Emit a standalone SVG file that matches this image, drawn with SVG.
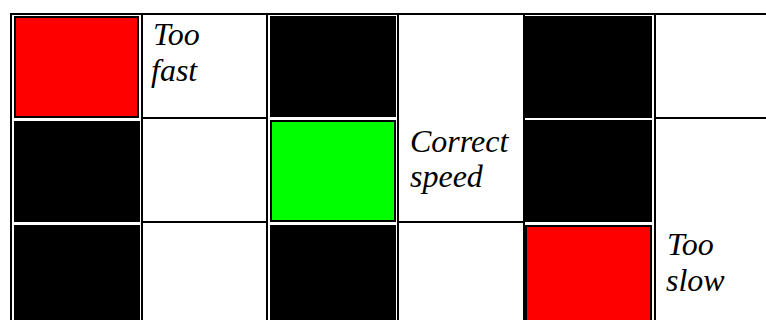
<svg xmlns="http://www.w3.org/2000/svg" width="766" height="320" viewBox="0 0 766 320">
  <style>
    .rule { fill: #000000; }
    .blk { fill: #000000; }
    .red { fill: #ff0000; stroke: #000000; stroke-width: 2; }
    .grn { fill: #00ff00; stroke: #000000; stroke-width: 2; }
    .lbl { fill: #000000; }
  </style>
  <rect x="0" y="0" width="766" height="320" fill="#ffffff"/>

  <g id="grid-lines">
    <rect class="rule" x="10" y="13" width="756" height="2"/>
    <rect class="rule" x="10" y="13" width="2" height="307"/>
    <rect class="rule" x="141" y="13" width="2" height="307"/>
    <rect class="rule" x="266" y="13" width="2" height="307"/>
    <rect class="rule" x="397" y="13" width="2" height="307"/>
    <rect class="rule" x="523" y="13" width="2" height="307"/>
    <rect class="rule" x="654" y="13" width="2" height="307"/>
    <rect class="rule" x="143" y="117" width="123" height="2"/>
    <rect class="rule" x="143" y="221" width="123" height="2"/>
    <rect class="rule" x="399" y="221" width="124" height="2"/>
    <rect class="rule" x="656" y="117" width="110" height="2"/>
  </g>

  <g id="col1">
    <rect class="red" x="15" y="17" width="123" height="100"/>
    <rect class="blk" x="14" y="121" width="126" height="101"/>
    <rect class="blk" x="14" y="225" width="126" height="95"/>
  </g>

  <g id="too-fast" font-family="'Liberation Serif', 'Times New Roman', serif" font-style="italic" font-size="32">
    <text class="lbl" x="153" y="45">Too</text>
    <text class="lbl" x="151" y="81">fast</text>
  </g>

  <g id="col3">
    <rect class="blk" x="270" y="16" width="126" height="101"/>
    <rect class="grn" x="271" y="121" width="124" height="100"/>
    <rect class="blk" x="270" y="225" width="126" height="95"/>
  </g>

  <g id="correct-speed" font-family="'Liberation Serif', 'Times New Roman', serif" font-style="italic" font-size="32">
    <text class="lbl" x="410" y="152">Correct</text>
    <text class="lbl" x="410" y="187">speed</text>
  </g>

  <g id="col5">
    <rect class="blk" x="525" y="16" width="127" height="102"/>
    <rect class="blk" x="525" y="120" width="127" height="102"/>
    <rect class="red" x="526" y="226" width="125" height="96"/>
  </g>

  <g id="too-slow" font-family="'Liberation Serif', 'Times New Roman', serif" font-style="italic" font-size="32">
    <text class="lbl" x="667" y="255">Too</text>
    <text class="lbl" x="666" y="291">slow</text>
  </g>

  <g id="connectors"></g>
</svg>
